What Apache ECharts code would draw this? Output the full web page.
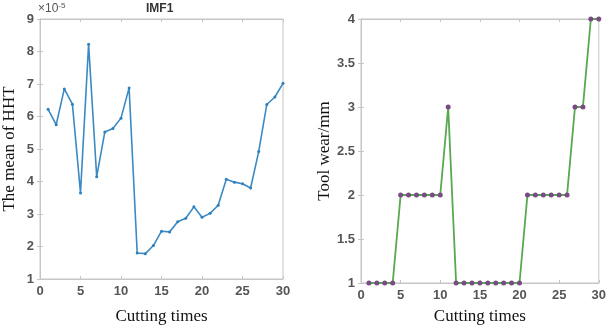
<!DOCTYPE html>
<html>
<head>
<meta charset="utf-8">
<script src="https://cdn.jsdelivr.net/npm/echarts@6/dist/echarts.min.js"></script>
<style>
  html, body { margin: 0; padding: 0; background: #fff; }
  #chart { width: 609px; height: 330px; }
</style>
</head>
<body>
<div id="chart"></div>
<script>
// cutting index 1..30
const cuttingTimes = [1, 2, 3, 4, 5, 6, 7, 8, 9, 10, 11, 12, 13, 14, 15, 16, 17, 18, 19, 20, 21, 22, 23, 24, 25, 26, 27, 28, 29, 30];
// mean of HHT for IMF1, in units of 1e-5
const hhtMean = [6.22, 5.75, 6.85, 6.38, 3.65, 8.22, 4.15, 5.52, 5.63, 5.95, 6.88, 1.80, 1.78, 2.03, 2.47, 2.45, 2.76, 2.87, 3.22, 2.90, 3.02, 3.27, 4.07, 3.98, 3.93, 3.80, 4.92, 6.37, 6.60, 7.02];
// tool wear, mm
const toolWear = [1, 1, 1, 1, 2, 2, 2, 2, 2, 2, 3, 1, 1, 1, 1, 1, 1, 1, 1, 1, 2, 2, 2, 2, 2, 2, 3, 3, 4, 4];

const frameColor = '#c6c6c6';
const tickFont = { color: '#555', fontSize: 13, fontFamily: 'Liberation Sans', fontWeight: 'bold' };
const nameFont = { color: '#111', fontSize: 17, fontFamily: 'Liberation Serif' };

function pairs(ys) {
  return cuttingTimes.map((x, i) => [x, ys[i]]);
}

function xAxisFor(gridIndex, gap, mirror) {
  return {
    type: 'value', gridIndex: gridIndex, min: 0, max: 30, interval: 5,
    position: mirror ? 'top' : 'bottom',
    name: mirror ? '' : 'Cutting times', nameLocation: 'middle', nameGap: gap, nameTextStyle: nameFont,
    axisLine: { lineStyle: { color: frameColor } },
    axisTick: { inside: true, length: 3, lineStyle: { color: frameColor } },
    axisLabel: Object.assign({ margin: 6, show: !mirror }, tickFont),
    splitLine: { show: false }
  };
}

function yAxisFor(gridIndex, min, max, interval, name, gap, mirror) {
  return {
    type: 'value', gridIndex: gridIndex, min: min, max: max, interval: interval,
    position: mirror ? 'right' : 'left',
    name: mirror ? '' : name, nameLocation: 'middle', nameGap: gap, nameTextStyle: nameFont,
    axisLine: { lineStyle: { color: frameColor } },
    axisTick: { inside: true, length: 3, lineStyle: { color: frameColor } },
    axisLabel: Object.assign({ margin: 6, show: !mirror }, tickFont),
    splitLine: { show: false }
  };
}

const chart = echarts.init(document.getElementById('chart'));

chart.setOption({
  animation: false,
  grid: [
    { left: 37, top: 19, width: 246, height: 270, show: true, borderColor: frameColor, borderWidth: 1 },
    { left: 361, top: 19, width: 245, height: 270, show: true, borderColor: frameColor, borderWidth: 1 }
  ],
  xAxis: [
    xAxisFor(0, 29, false),
    xAxisFor(1, 25, false),
    xAxisFor(0, 0, true),
    xAxisFor(1, 0, true)
  ],
  yAxis: [
    yAxisFor(0, 1, 9, 1, 'The mean of HHT', 22, false),
    yAxisFor(1, 1, 4, 0.5, 'Tool wear/mm', 26, false),
    yAxisFor(0, 1, 9, 1, '', 0, true),
    yAxisFor(1, 1, 4, 0.5, '', 0, true)
  ],
  graphic: [
    {
      type: 'text', left: 146, top: 3,
      style: { text: 'IMF1', fill: '#333', font: 'bold 12px "Liberation Sans"' }
    },
    {
      type: 'text', left: 38, top: 2,
      style: {
        text: '×10{sup|-5}', fill: '#555', font: '12px "Liberation Sans"',
        rich: { sup: { fontSize: 8, verticalAlign: 'top', padding: [0, 0, 6, 0], fill: '#555' } }
      }
    }
  ],
  series: [
    {
      type: 'line', xAxisIndex: 0, yAxisIndex: 0,
      data: pairs(hhtMean),
      symbol: 'circle', symbolSize: 3,
      lineStyle: { color: '#3b8ac4', width: 1.6 },
      itemStyle: { color: '#2f7fbd' }
    },
    {
      type: 'line', xAxisIndex: 1, yAxisIndex: 1,
      data: pairs(toolWear),
      symbol: 'circle', symbolSize: 5,
      lineStyle: { color: '#56a94f', width: 1.8 },
      itemStyle: { color: '#7a4a86', borderWidth: 0 }
    }
  ]
});
</script>
</body>
</html>
